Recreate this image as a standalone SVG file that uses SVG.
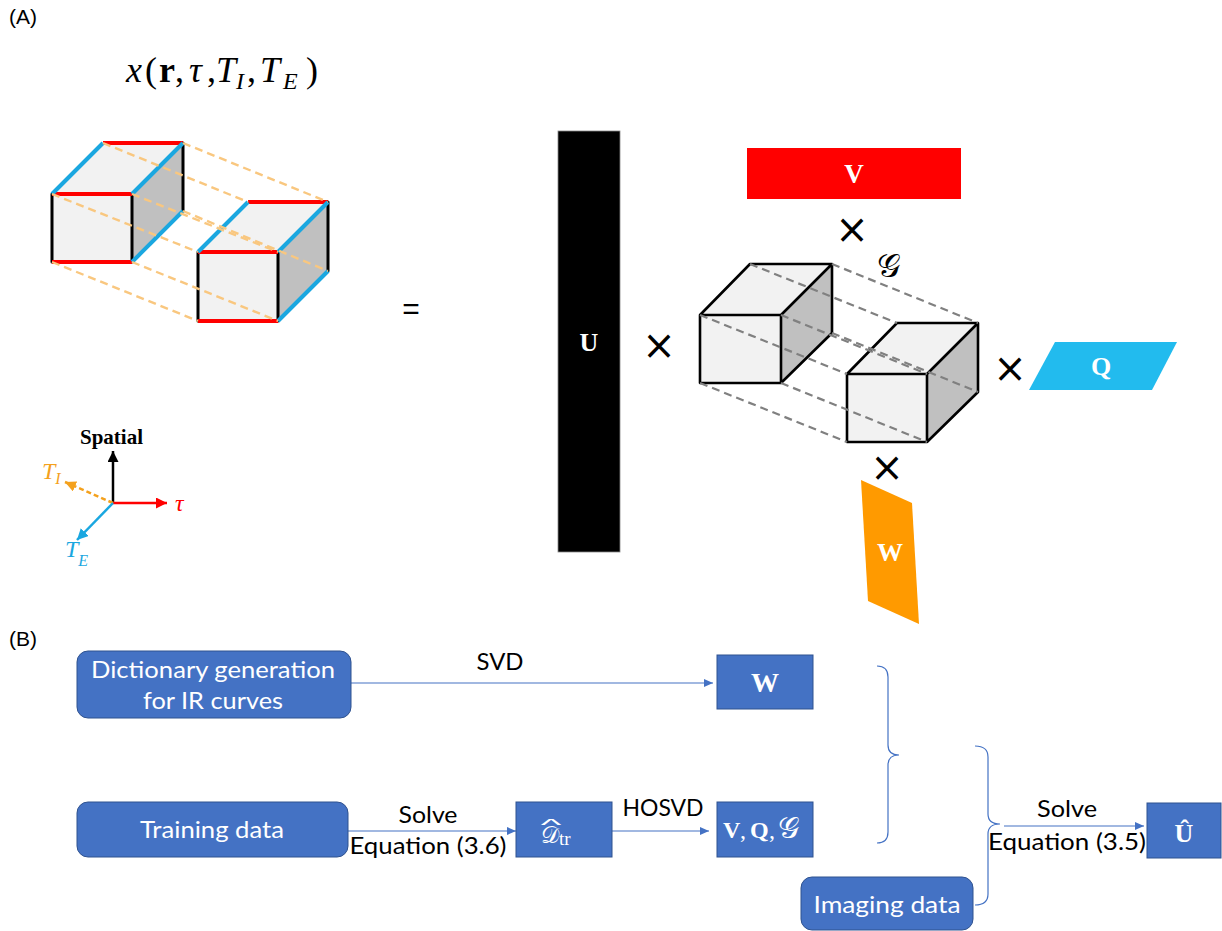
<svg xmlns="http://www.w3.org/2000/svg" width="1222" height="931" viewBox="0 0 1222 931">
<defs>
<style>
.lbl{font-family:"Liberation Sans",Arial,sans-serif;font-size:21px;fill:#000}
.math{font-family:"Liberation Serif","Times New Roman",serif}
.scr{font-family:"DejaVu Sans","Noto Sans",serif}
.bb{font-family:"Liberation Serif","DejaVu Serif",serif;font-weight:bold;fill:#fff;text-anchor:middle}
.cal{font-family:Lato,"Open Sans",sans-serif;font-size:24px}
.wt{fill:#fff;text-anchor:middle}
.bk{fill:#000;text-anchor:middle}
.face{fill:#F2F2F2}
.side{fill:#C0C0C0}
.ek{stroke:#000;stroke-width:3;stroke-linecap:round}
.er{stroke:#FF0000;stroke-width:4}
.eb{stroke:#1AA7E0;stroke-width:4}
.od{stroke:#F9C77F;stroke-width:2.4;stroke-dasharray:8 5;fill:none}
.gd{stroke:#808080;stroke-width:2.2;stroke-dasharray:8 5;fill:none}
.gk{stroke:#000;stroke-width:2.6;stroke-linejoin:round;fill:none}
.box{fill:#4472C4;stroke:#2F528F;stroke-width:1}
.conn{stroke:#4472C4;stroke-width:1.2;fill:none}
.times{font-family:"DejaVu Sans",sans-serif;font-size:40px;text-anchor:middle;fill:#000}
</style>
<marker id="ah" markerUnits="userSpaceOnUse" markerWidth="9" markerHeight="8" refX="9" refY="4" orient="auto"><path d="M0,0 L9,4 L0,8 z" fill="#4472C4"/></marker>
<marker id="ak" markerUnits="userSpaceOnUse" markerWidth="11" markerHeight="11" refX="11" refY="5.5" orient="auto"><path d="M0,0 L11,5.5 L0,11 z" fill="#000"/></marker>
<marker id="ar" markerUnits="userSpaceOnUse" markerWidth="11" markerHeight="11" refX="11" refY="5.5" orient="auto"><path d="M0,0 L11,5.5 L0,11 z" fill="#FF0000"/></marker>
<marker id="ao" markerUnits="userSpaceOnUse" markerWidth="11" markerHeight="11" refX="11" refY="5.5" orient="auto"><path d="M0,0 L11,5.5 L0,11 z" fill="#F4A11D"/></marker>
<marker id="ab" markerUnits="userSpaceOnUse" markerWidth="11" markerHeight="11" refX="11" refY="5.5" orient="auto"><path d="M0,0 L11,5.5 L0,11 z" fill="#1AA7E0"/></marker>
</defs>
<rect width="1222" height="931" fill="#fff"/>

<g id="panel-a-label"><text class="lbl" x="9" y="24">(A)</text></g>
<g id="title">
<text class="math" y="82" font-size="36"><tspan x="126" font-style="italic">x</tspan><tspan x="145">(</tspan><tspan x="159" font-weight="bold">r</tspan><tspan x="175">,</tspan><tspan x="189" font-style="italic">τ</tspan><tspan x="207">,</tspan><tspan x="216" font-style="italic">T</tspan><tspan x="236" y="89" font-style="italic" font-size="24">I</tspan><tspan x="247" y="82">,</tspan><tspan x="260" font-style="italic">T</tspan><tspan x="283" y="89" font-style="italic" font-size="24">E</tspan><tspan x="306" y="82">)</tspan></text>
</g>

<g id="tensor-x">
<polygon class="face" points="52,194 103,143 183,143 132,194"/>
<rect class="face" x="52" y="194" width="80" height="68"/>
<polygon class="side" points="132,194 183,143 183,211 132,262"/>
<polygon class="face" points="198,252 248,202 328,202 278,252"/>
<rect class="face" x="198" y="252" width="80" height="69"/>
<polygon class="side" points="278,252 328,202 328,271 278,321"/>
<g class="ek">
<line x1="52" y1="194" x2="52" y2="262"/><line x1="132" y1="194" x2="132" y2="262"/><line x1="183" y1="143" x2="183" y2="211"/>
<line x1="198" y1="252" x2="198" y2="321"/><line x1="278" y1="252" x2="278" y2="321"/><line x1="328" y1="202" x2="328" y2="271"/>
</g>
<g class="er">
<line x1="52" y1="194" x2="132" y2="194"/><line x1="52" y1="262" x2="132" y2="262"/><line x1="103" y1="143" x2="183" y2="143"/>
<line x1="198" y1="252" x2="278" y2="252"/><line x1="198" y1="321" x2="278" y2="321"/><line x1="248" y1="202" x2="328" y2="202"/>
</g>
<g class="eb">
<line x1="52" y1="194" x2="103" y2="143"/><line x1="132" y1="194" x2="183" y2="143"/><line x1="132" y1="262" x2="183" y2="211"/>
<line x1="198" y1="252" x2="248" y2="202"/><line x1="278" y1="252" x2="328" y2="202"/><line x1="278" y1="321" x2="328" y2="271"/>
</g>
<g class="od">
<line x1="103" y1="143" x2="248" y2="202"/><line x1="183" y1="143" x2="328" y2="202"/>
<line x1="52" y1="194" x2="198" y2="252"/><line x1="132" y1="194" x2="278" y2="252"/>
<line x1="52" y1="262" x2="198" y2="321"/><line x1="132" y1="262" x2="278" y2="321"/>
<line x1="183" y1="211" x2="328" y2="271"/>
</g>
</g>

<g id="axes">
<line x1="113" y1="503" x2="113" y2="451" stroke="#000" stroke-width="2.5" marker-end="url(#ak)"/>
<line x1="113" y1="503" x2="167" y2="503" stroke="#FF0000" stroke-width="2.5" marker-end="url(#ar)"/>
<line x1="113" y1="503" x2="65" y2="482" stroke="#F4A11D" stroke-width="2.5" stroke-dasharray="5 3" marker-end="url(#ao)"/>
<line x1="113" y1="503" x2="77" y2="540" stroke="#1AA7E0" stroke-width="2.5" marker-end="url(#ab)"/>
<text class="math" x="80" y="444" font-size="21" font-weight="bold" fill="#000">Spatial</text>
<text class="math" x="175" y="511" font-size="24" font-style="italic" fill="#FF0000">τ</text>
<text class="math" x="42" y="479" font-size="24" font-style="italic" fill="#F4A11D">T<tspan font-size="16" dy="5">I</tspan></text>
<text class="math" x="65" y="557" font-size="24" font-style="italic" fill="#1AA7E0">T<tspan font-size="16" dy="9">E</tspan></text>
</g>

<g id="equals"><text x="411" y="319" font-family="Liberation Sans,sans-serif" font-size="30" text-anchor="middle">=</text></g>

<g id="U-matrix">
<rect x="558" y="131" width="62" height="421" fill="#000" stroke="#888" stroke-width="0.8"/>
<text class="bb" x="589" y="351" font-size="26">U</text>
</g>

<g id="V-matrix">
<rect x="747" y="148" width="214" height="51" fill="#FF0000"/>
<text class="bb" x="854" y="183" font-size="27">V</text>
</g>

<g id="core-G">
<polygon class="face" points="700,315 750,264 832,264 781,315"/>
<rect class="face" x="700" y="315" width="81" height="68"/>
<polygon class="side" points="781,315 832,264 832,333 781,383"/>
<polygon class="face" points="847,374 897,323 978,323 927,374"/>
<rect class="face" x="847" y="374" width="80" height="68"/>
<polygon class="side" points="927,374 978,323 978,392 927,442"/>
<path class="gk" d="M700,315 L750,264 L832,264 L781,315 Z M700,315 V383 H781 V315 M781,383 L832,333 V264"/>
<path class="gk" d="M847,374 L897,323 L978,323 L927,374 Z M847,374 V442 H927 V374 M927,442 L978,392 V323"/>
<g class="gd">
<line x1="750" y1="264" x2="897" y2="323"/><line x1="832" y1="264" x2="978" y2="323"/>
<line x1="700" y1="315" x2="847" y2="374"/><line x1="781" y1="315" x2="927" y2="374"/>
<line x1="700" y1="383" x2="847" y2="442"/><line x1="781" y1="383" x2="927" y2="442"/>
<line x1="832" y1="333" x2="978" y2="392"/>
</g>
<text class="scr" x="889" y="277" font-size="33" text-anchor="middle">𝒢</text>
</g>

<g id="Q-matrix">
<polygon points="1055,342 1177,342 1152,390 1029,390" fill="#22BBEE"/>
<text class="bb" x="1101" y="375" font-size="26">Q</text>
</g>

<g id="W-matrix">
<polygon points="861,480 912,503 919,624 868,601" fill="#FF9A00"/>
<text class="bb" x="890" y="561" font-size="26">W</text>
</g>

<g id="times-signs">
<text class="times" x="852" y="243">×</text>
<text class="times" x="659" y="359">×</text>
<text class="times" x="1010" y="382">×</text>
<text class="times" x="887" y="481">×</text>
</g>

<g id="panel-b-label"><text class="lbl" x="9" y="646">(B)</text></g>

<g id="connectors">
<line class="conn" x1="351" y1="683" x2="713" y2="683" marker-end="url(#ah)"/>
<line class="conn" x1="348" y1="831" x2="516" y2="831" marker-end="url(#ah)"/>
<line class="conn" x1="612" y1="831" x2="709" y2="831" marker-end="url(#ah)"/>
<line class="conn" x1="1004" y1="826" x2="1144" y2="826" marker-end="url(#ah)"/>
<path class="conn" d="M877,666 Q888,666 888,677 L888,745 Q888,755 899,755 Q888,755 888,765 L888,832 Q888,843 877,843"/>
<path class="conn" d="M975,746 Q988,746 988,757 L988,814 Q988,824 1000,824 Q988,824 988,834 L988,894 Q988,905 975,905"/>
<text class="cal bk" x="500" y="670" textLength="47" lengthAdjust="spacingAndGlyphs">SVD</text>
<text class="cal bk" x="428" y="823" textLength="59" lengthAdjust="spacingAndGlyphs">Solve</text>
<text class="cal bk" x="428" y="854" textLength="157" lengthAdjust="spacingAndGlyphs">Equation (3.6)</text>
<text class="cal bk" x="663" y="816" textLength="81" lengthAdjust="spacingAndGlyphs">HOSVD</text>
<text class="cal bk" x="1067" y="817" textLength="60" lengthAdjust="spacingAndGlyphs">Solve</text>
<text class="cal bk" x="1067" y="850" textLength="158" lengthAdjust="spacingAndGlyphs">Equation (3.5)</text>
</g>

<g id="dictionary">
<rect class="box" x="77" y="651" width="274" height="67" rx="11"/>
<text class="cal wt" x="213" y="678" textLength="244" lengthAdjust="spacingAndGlyphs">Dictionary generation</text>
<text class="cal wt" x="213" y="709" textLength="140" lengthAdjust="spacingAndGlyphs">for IR curves</text>
</g>

<g id="W-box">
<rect class="box" x="717" y="655" width="96" height="54"/>
<text class="bb" x="765" y="692" font-size="28">W</text>
</g>

<g id="training">
<rect class="box" x="77" y="802" width="271" height="55" rx="11"/>
<text class="cal wt" x="212" y="838" textLength="144" lengthAdjust="spacingAndGlyphs">Training data</text>
</g>

<g id="D-box">
<rect class="box" x="516" y="802" width="96" height="55"/>
<text font-family="Liberation Sans,sans-serif" transform="translate(551,831) scale(2.0,0.75)" x="0" y="0" font-size="22" fill="#fff" text-anchor="middle">^</text>
<text class="scr" x="541" y="843" font-size="23" fill="#fff">𝒟<tspan class="math" font-size="19" dy="2">tr</tspan></text>
</g>

<g id="VQG-box">
<rect class="box" x="717" y="802" width="96" height="55"/>
<text class="math" y="838" font-size="24" fill="#fff"><tspan x="723" font-weight="bold">V</tspan><tspan x="740">,</tspan><tspan x="750" font-weight="bold">Q</tspan><tspan x="769">,</tspan><tspan x="778" class="scr" font-size="30">𝒢</tspan></text>
</g>

<g id="imaging">
<rect class="box" x="801" y="877" width="172" height="53" rx="11"/>
<text class="cal wt" x="887" y="913" textLength="147" lengthAdjust="spacingAndGlyphs">Imaging data</text>
</g>

<g id="U-box">
<rect class="box" x="1147" y="803" width="74" height="55"/>
<text class="bb" x="1184" y="842" font-size="26">Û</text>
</g>
</svg>
